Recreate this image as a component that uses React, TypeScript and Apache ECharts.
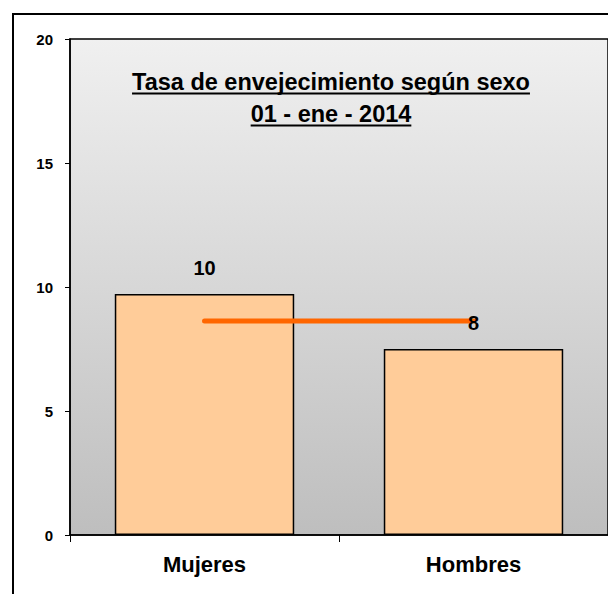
import React, { useEffect, useRef } from "react";
import * as echarts from "echarts";

const categories = ["Mujeres", "Hombres"];
const barValues = [9.72, 7.5];
const averageValues = [8.63, 8.63];
const titleLines = ["Tasa de envejecimiento según sexo", "01 - ene - 2014"];
const yTicks = { min: 0, max: 20, interval: 5 };

const FONT = "'Liberation Sans', Arial, sans-serif";

function measure(text: string, size: number): number {
  const c = document.createElement("canvas");
  const ctx = c.getContext("2d");
  if (!ctx) return text.length * size * 0.55;
  ctx.font = `bold ${size}px 'Liberation Sans', Arial, sans-serif`;
  return ctx.measureText(text).width;
}

export default function App() {
  const ref = useRef<HTMLDivElement>(null);
  useEffect(() => {
    if (!ref.current) return;
    const chart = echarts.init(ref.current, undefined, { renderer: "svg" });
    const titleSize = 23.5;
    const cx = 331;
    const w1 = measure(titleLines[0], titleSize);
    const w2 = measure(titleLines[1], titleSize);
    chart.setOption({
      animation: false,
      grid: {
        left: 70,
        top: 39,
        width: 540,
        bottom: 59,
        show: true,
        borderColor: "#000",
        borderWidth: 1.5,
        backgroundColor: new echarts.graphic.LinearGradient(0, 0, 0, 1, [
          { offset: 0, color: "#f0f0f0" },
          { offset: 1, color: "#bebebe" },
        ]),
      },
      xAxis: {
        type: "category",
        data: categories,
        axisLine: { lineStyle: { color: "#000", width: 1.5 } },
        axisTick: { show: true, length: 7, lineStyle: { color: "#000", width: 1 } },
        axisLabel: {
          color: "#000",
          fontFamily: FONT,
          fontWeight: "bold",
          fontSize: 22,
          margin: 18,
        },
      },
      yAxis: {
        type: "value",
        min: yTicks.min,
        max: yTicks.max,
        interval: yTicks.interval,
        splitLine: { show: false },
        axisLine: { show: true, lineStyle: { color: "#000", width: 1.5 } },
        axisTick: { show: true, length: 5, lineStyle: { color: "#000", width: 1 } },
        axisLabel: {
          color: "#000",
          fontFamily: FONT,
          fontWeight: "bold",
          fontSize: 15,
          margin: 17,
        },
      },
      series: [
        {
          type: "bar",
          data: barValues,
          barCategoryGap: "33.3%",
          itemStyle: { color: "#FFCC99", borderColor: "#000", borderWidth: 1.5 },
          z: 2,
        },
        {
          type: "line",
          data: averageValues,
          symbol: "none",
          lineStyle: { color: "#FF6600", width: 5, cap: "round" },
          z: 3,
        },
        {
          type: "bar",
          data: barValues,
          barGap: "-100%",
          barCategoryGap: "33.3%",
          silent: true,
          itemStyle: { color: "rgba(0,0,0,0)", borderWidth: 0 },
          label: {
            show: true,
            position: "top",
            distance: 16,
            color: "#000",
            fontFamily: FONT,
            fontWeight: "bold",
            fontSize: 20,
            formatter: (p: any) => String(Math.round(p.value)),
          },
          z: 4,
        },
      ],
      graphic: [
        {
          type: "rect",
          shape: { x: 13, y: 14, width: 700, height: 700 },
          style: { fill: "none", stroke: "#000", lineWidth: 2 },
          silent: true,
        },
        {
          type: "text",
          x: cx,
          y: 82,
          style: {
            text: titleLines[0],
            align: "center",
            verticalAlign: "middle",
            fill: "#000",
            font: `bold ${titleSize}px ${FONT}`,
          },
        },
        {
          type: "line",
          shape: { x1: cx - w1 / 2, y1: 93.5, x2: cx + w1 / 2, y2: 93.5 },
          style: { stroke: "#000", lineWidth: 2 },
        },
        {
          type: "text",
          x: cx,
          y: 114,
          style: {
            text: titleLines[1],
            align: "center",
            verticalAlign: "middle",
            fill: "#000",
            font: `bold ${titleSize}px ${FONT}`,
          },
        },
        {
          type: "line",
          shape: { x1: cx - w2 / 2, y1: 125.5, x2: cx + w2 / 2, y2: 125.5 },
          style: { stroke: "#000", lineWidth: 2 },
        },
      ],
    });
    return () => chart.dispose();
  }, []);
  return (
    <div
      ref={ref}
      style={{ position: "absolute", left: 0, top: 0, width: 608, height: 594, background: "#fff" }}
    />
  );
}
